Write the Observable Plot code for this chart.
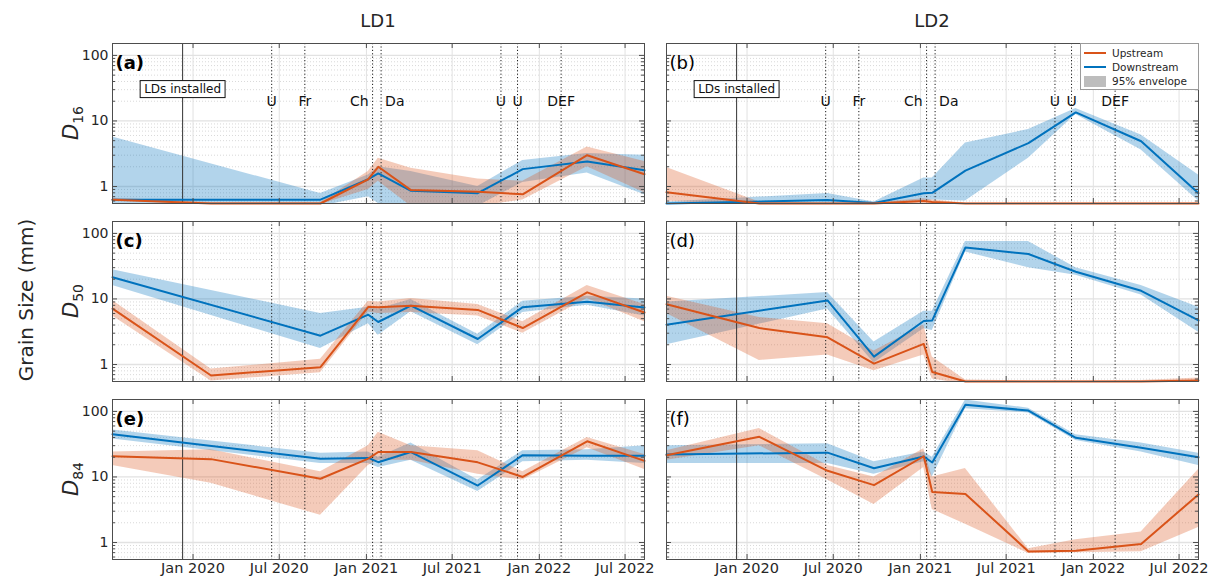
<!DOCTYPE html>
<html><head><meta charset="utf-8">
<script src="https://cdn.jsdelivr.net/npm/d3@7"></script>
<script src="https://cdn.jsdelivr.net/npm/@observablehq/plot@0.6"></script>
<style>
body{margin:0;background:#fff;font-family:"DejaVu Sans",sans-serif;color:#262626;}
#wrap{position:relative;width:1212px;height:576px;overflow:hidden;background:#fff;}
.abs{position:absolute;white-space:nowrap;}
.legend{position:absolute;border:1px solid #9a9a9a;background:#fff;font-size:11px;color:#262626;box-sizing:border-box;white-space:nowrap;}
.legend .row{position:absolute;left:0;right:0;height:14px;line-height:14px;white-space:nowrap;}
</style></head><body><div id="wrap"></div>
<script>
// ---------------- data ----------------
const xTickDates = ["2020-01-01","2020-07-01","2021-01-01","2021-07-01","2022-01-01","2022-07-01"];
const xTickLabels = ["Jan 2020","Jul 2020","Jan 2021","Jul 2021","Jan 2022","Jul 2022"];
const yTickValues = [1, 10, 100];
const yTickLabels = ["1", "10", "100"];
const yMinorValues = [0.6,0.7,0.8,0.9,2,3,4,5,6,7,8,9,20,30,40,50,60,70,80,90];

const eventLabels = ["U","Fr","Ch","Da","U","U","DEF"];
const eventDates = ["2020-06-15","2020-08-24","2021-01-14","2021-02-01","2021-10-12","2021-11-16","2022-02-16"];
const installDate = "2019-12-10";
const installLabel = "LDs installed";

const ld1Dates = ["2019-07-15","2020-02-08","2020-09-26","2021-01-05","2021-01-26","2021-04-05","2021-08-24","2021-11-27","2022-04-12","2022-08-11"];
const ld2Dates = ["2019-07-15","2020-01-27","2020-06-19","2020-09-25","2021-01-08","2021-01-26","2021-04-06","2021-08-17","2021-11-25","2022-04-12","2022-08-11"];

// LD1
const ld1_d16_up   = [0.63, 0.55, 0.55, 1.29, 2.0, 0.88, 0.83, 0.76, 3.0, 1.54];
const ld1_d16_upLo = [0.6, 0.53, 0.53, 0.9, 1.2, 0.5, 0.5, 0.62, 2.0, 0.8];
const ld1_d16_upHi = [0.66, 0.57, 0.57, 1.7, 2.7, 1.9, 1.3, 1.2, 4.0, 2.4];
const ld1_d16_dn   = [0.63, null, 0.63, 1.29, 1.58, 0.86, 0.79, 1.84, 2.4, 1.77];
const ld1_d16_dnLo = [0.5, null, 0.5, 0.7, 0.55, 0.45, 0.5, 1.15, 1.6, 0.75];
const ld1_d16_dnHi = [5.7, null, 0.78, 1.5, 2.0, 1.7, 1.0, 2.5, 3.2, 3.0];

const ld1_d50_up   = [7.1, 0.68, 0.91, 7.6, 7.5, 7.9, 6.8, 3.6, 12.6, 6.2];
const ld1_d50_upLo = [5.5, 0.56, 0.75, 6.3, 6.0, 6.2, 5.5, 3.0, 10.2, 4.5];
const ld1_d50_upHi = [9.5, 0.85, 1.2, 9.2, 9.0, 10.2, 8.2, 4.5, 16, 8.2];
const ld1_d50_dn   = [21.5, null, 2.75, 5.75, 4.45, 7.9, 2.45, 7.5, 9.1, 7.4];
const ld1_d50_dnLo = [16, null, 1.75, 4.2, 2.8, 6.4, 2.0, 6.2, 8.0, 5.5];
const ld1_d50_dnHi = [28, null, 6.0, 7.5, 7.0, 9.8, 2.9, 9.2, 11, 10];

const ld1_d84_up   = [20.7, 18.7, 9.4, 19, 24, 24, 16.7, 10, 35, 17.6];
const ld1_d84_upLo = [15, 8, 2.6, 15, 18, 18, 11, 9, 28, 13];
const ld1_d84_upHi = [24, 26, 12, 30, 48, 30, 25, 12, 40, 22];
const ld1_d84_dn   = [45, null, 18.9, 19.5, 16.8, 24, 7.4, 21.5, 21, 21];
const ld1_d84_dnLo = [38, null, 16, 16, 14, 18, 6, 17, 18, 16];
const ld1_d84_dnHi = [52, null, 23, 24, 20, 33, 9, 25, 26, 30];

// LD2
const ld2_d16_up   = [0.82, 0.55, 0.55, 0.55, 0.6, 0.58, 0.55, 0.55, 0.55, 0.55, 0.55];
const ld2_d16_upLo = [0.6, 0.5, 0.5, 0.5, 0.56, 0.54, 0.5, 0.5, 0.5, 0.5, 0.5];
const ld2_d16_upHi = [1.95, 0.58, 0.56, 0.56, 0.65, 0.62, 0.56, 0.56, 0.56, 0.56, 0.56];
const ld2_d16_dn   = [0.55, null, 0.62, 0.56, 0.79, 0.8, 1.75, 4.6, 13.5, 4.9, 0.79];
const ld2_d16_dnLo = [0.5, null, 0.55, 0.52, 0.6, 0.62, 0.6, 2.7, 12.5, 3.6, 0.6];
const ld2_d16_dnHi = [0.58, null, 0.78, 0.58, 1.35, 1.35, 4.6, 7.4, 15.5, 6.1, 1.5];

const ld2_d50_up   = [8.3, 3.6, 2.6, 1.03, 2.06, 0.77, 0.55, 0.55, 0.55, 0.55, 0.57];
const ld2_d50_upLo = [6, 1.15, 1.4, 0.8, 1.4, 0.6, 0.5, 0.5, 0.5, 0.5, 0.5];
const ld2_d50_upHi = [11, 5.2, 4.2, 1.6, 4.0, 1.3, 0.58, 0.56, 0.56, 0.57, 0.62];
const ld2_d50_dn   = [4.05, null, 9.5, 1.32, 4.6, 4.7, 61, 48.5, 26, 13.3, 4.7];
const ld2_d50_dnLo = [2.0, null, 7.0, 1.05, 3.5, 3.3, 52, 30, 23, 11.5, 3.1];
const ld2_d50_dnHi = [9, null, 12.5, 2.2, 6.5, 6.5, 75, 75, 30, 16, 7.5];

const ld2_d84_up   = [21.5, 41, 12.4, 7.5, 20.7, 5.9, 5.5, 0.73, 0.75, 0.95, 5.4];
const ld2_d84_upLo = [18, 30, 9, 3.8, 14, 3.2, 1.9, 0.68, 0.7, 0.72, 1.7];
const ld2_d84_upHi = [25, 55, 15, 10, 27, 10, 13.5, 0.8, 1.1, 1.45, 13];
const ld2_d84_dn   = [22, null, 23.5, 13.6, 20.5, 16.6, 126, 103, 39.5, 28, 20];
const ld2_d84_dnLo = [16, null, 16, 11, 17, 10, 110, 95, 36, 24, 15];
const ld2_d84_dnHi = [30, null, 32, 17, 24, 20, 150, 112, 44, 33, 23];

const titles = ["LD1", "LD2"];
const rowLabels = ["16", "50", "84"];
const panelLetters = [["(a)","(c)","(e)"], ["(b)","(d)","(f)"]];
const legendLabels = ["Upstream", "Downstream", "95% envelope"];

// ---------------- layout / style ----------------
const BLUE = "#0072BD", ORANGE = "#D95319", FRAME = "#4d4d4d";
const xDomain = [new Date("2019-07-15"), new Date("2022-08-11")];
const yDomain = [0.55, 152];
const W = 532, H = 160;
const colX = [112, 666];
const rowY = [43, 221, 399];
const ML = 40, MR = 18, MT = 4;
const FONT = "DejaVu Sans";
const eventLevel = 20, installLevel = 31;
const anchorOf = {"Ch": "end", "Da": "start"};

const wrap = document.getElementById("wrap");

function rows(dates, v, lo, hi) {
  return dates.map((d, i) => ({date: new Date(d), v: v[i], lo: lo[i], hi: hi[i]})).filter(r => r.v != null);
}

function panel(col, row, dates, up, upLo, upHi, dn, dnLo, dnHi) {
  const upR = rows(dates, up, upLo, upHi);
  const dnR = rows(dates, dn, dnLo, dnHi);
  const xt = xTickDates.map(d => new Date(d));
  const ev = eventLabels.map((t, i) => ({t, date: new Date(eventDates[i])}));
  const MB = row === 2 ? 18 : 4;
  const marks = [
    Plot.ruleY(yMinorValues, {y: d => d, stroke: "#cfcfcf", strokeWidth: 0.8, strokeDasharray: "1,2"}),
    Plot.ruleX(xt, {x: d => d, stroke: "#e2e2e2", strokeWidth: 1}),
    Plot.ruleY(yTickValues, {y: d => d, stroke: "#e2e2e2", strokeWidth: 1.3}),
    Plot.areaY(dnR, {x: "date", y1: "lo", y2: "hi", fill: BLUE, fillOpacity: 0.3, clip: true}),
    Plot.areaY(upR, {x: "date", y1: "lo", y2: "hi", fill: ORANGE, fillOpacity: 0.3, clip: true}),
    Plot.ruleX(ev, {x: "date", stroke: "#1a1a1a", strokeWidth: 1, strokeDasharray: "1.2,2.2"}),
    Plot.ruleX([new Date(installDate)], {x: d => d, stroke: "#333", strokeWidth: 1}),
    Plot.lineY(dnR, {x: "date", y: "v", stroke: BLUE, strokeWidth: 2}),
    Plot.lineY(upR, {x: "date", y: "v", stroke: ORANGE, strokeWidth: 2}),
    // inward ticks
    Plot.tickY(yTickValues, {y: d => d, insetRight: W - 5, stroke: FRAME}),
    Plot.tickY(yMinorValues, {y: d => d, insetRight: W - 3, stroke: FRAME}),
    Plot.tickY(yTickValues, {y: d => d, insetLeft: W - 5, stroke: FRAME}),
    Plot.tickY(yMinorValues, {y: d => d, insetLeft: W - 3, stroke: FRAME}),
    Plot.tickX(xt, {x: d => d, insetTop: H - 5, stroke: FRAME}),
    Plot.tickX(xt, {x: d => d, insetBottom: H - 5, stroke: FRAME}),
    Plot.frame({stroke: FRAME, strokeWidth: 1}),
    Plot.text([panelLetters[col][row]], {text: d => d, frameAnchor: "top-left", dx: 3, dy: 13,
      fontSize: 18, fontWeight: col === 0 ? "bold" : "normal", fill: "#000"})
  ];
  if (col === 0) {
    marks.push(Plot.axisY({ticks: yTickValues, tickSize: 0, tickPadding: 4, label: null,
      tickFormat: d => yTickLabels[yTickValues.indexOf(d)], fontSize: 14, fill: "#262626"}));
  }
  if (row === 2) {
    marks.push(Plot.axisX({ticks: xt, tickSize: 0, tickPadding: 3, label: null,
      tickFormat: d => xTickLabels[xt.findIndex(t => +t === +d)], fontSize: 14.5, fill: "#262626"}));
  }
  if (row === 0) {
    marks.push(Plot.text(ev.filter(e => !anchorOf[e.t]), {x: "date", y: () => eventLevel, text: "t", fontSize: 14, fill: "#111"}));
    marks.push(Plot.text(ev.filter(e => anchorOf[e.t] === "end"), {x: "date", y: () => eventLevel, text: "t", textAnchor: "end", dx: -4, fontSize: 14, fill: "#111"}));
    marks.push(Plot.text(ev.filter(e => anchorOf[e.t] === "start"), {x: "date", y: () => eventLevel, text: "t", textAnchor: "start", dx: 4, fontSize: 14, fill: "#111"}));
    marks.push(Plot.text([new Date(installDate)], {x: d => d, y: () => installLevel, text: () => installLabel, fontSize: 12, fill: "#111"}));
  }
  const svg = Plot.plot({
    width: W + ML + MR, height: H + MT + MB,
    marginLeft: ML, marginRight: MR, marginTop: MT, marginBottom: MB,
    style: {background: "transparent", fontFamily: FONT, overflow: "visible", color: "#262626"},
    x: {type: "utc", domain: xDomain, axis: null},
    y: {type: "log", domain: yDomain, axis: null},
    marks
  });
  svg.style.position = "absolute";
  svg.style.left = (colX[col] - ML) + "px";
  svg.style.top = (rowY[row] - MT) + "px";
  svg.style.maxWidth = "none";
  wrap.appendChild(svg);
  if (row === 0) {
    const t = [...svg.querySelectorAll("text")].find(e => e.textContent === installLabel);
    if (t) {
      const bb = t.getBBox();
      const r = document.createElementNS("http://www.w3.org/2000/svg", "rect");
      r.setAttribute("x", bb.x - 4); r.setAttribute("y", bb.y - 1);
      r.setAttribute("width", bb.width + 8); r.setAttribute("height", bb.height + 3);
      r.setAttribute("fill", "#fff"); r.setAttribute("stroke", "#111"); r.setAttribute("stroke-width", 1);
      if (t.getAttribute("transform")) r.setAttribute("transform", t.getAttribute("transform"));
      t.parentNode.insertBefore(r, t);
    }
  }
}

panel(0, 0, ld1Dates, ld1_d16_up, ld1_d16_upLo, ld1_d16_upHi, ld1_d16_dn, ld1_d16_dnLo, ld1_d16_dnHi);
panel(0, 1, ld1Dates, ld1_d50_up, ld1_d50_upLo, ld1_d50_upHi, ld1_d50_dn, ld1_d50_dnLo, ld1_d50_dnHi);
panel(0, 2, ld1Dates, ld1_d84_up, ld1_d84_upLo, ld1_d84_upHi, ld1_d84_dn, ld1_d84_dnLo, ld1_d84_dnHi);
panel(1, 0, ld2Dates, ld2_d16_up, ld2_d16_upLo, ld2_d16_upHi, ld2_d16_dn, ld2_d16_dnLo, ld2_d16_dnHi);
panel(1, 1, ld2Dates, ld2_d50_up, ld2_d50_upLo, ld2_d50_upHi, ld2_d50_dn, ld2_d50_dnLo, ld2_d50_dnHi);
panel(1, 2, ld2Dates, ld2_d84_up, ld2_d84_upLo, ld2_d84_upHi, ld2_d84_dn, ld2_d84_dnLo, ld2_d84_dnHi);

// ---------------- text overlays ----------------
function label(html, x, y, css, rotate) {
  const d = document.createElement("div");
  d.className = "abs";
  d.innerHTML = html;
  d.style.left = x + "px"; d.style.top = y + "px";
  d.style.transform = "translate(-50%,-50%)" + (rotate ? " rotate(-90deg)" : "");
  d.style.cssText += css;
  wrap.appendChild(d);
}
titles.forEach((t, i) => label(t, colX[i] + W / 2, 20, "font-size:18px;color:#262626;"));
label("Grain Size (mm)", 26, 300, "font-size:20px;color:#262626;", true);
rowLabels.forEach((s, i) => label('<i>D</i><sub style="font-size:14px;vertical-align:-5px">' + s + '</sub>',
  72, rowY[i] + H / 2, "font-size:21px;color:#262626;", true));

// legend
const lg = document.createElement("div");
lg.className = "legend";
lg.style.cssText += "left:1080px;top:43px;width:119px;height:47px;";
const sw = [
  `<span style="display:inline-block;width:22px;height:2px;background:${ORANGE};vertical-align:middle"></span>`,
  `<span style="display:inline-block;width:22px;height:2px;background:${BLUE};vertical-align:middle"></span>`,
  `<span style="display:inline-block;width:22px;height:11px;background:#bdbdbd;vertical-align:middle"></span>`
];
legendLabels.forEach((t, i) => {
  const r = document.createElement("div");
  r.className = "row";
  r.style.top = (2 + i * 14) + "px";
  r.innerHTML = `<span style="position:absolute;left:3px;top:0">${sw[i]}</span><span style="position:absolute;left:31px;top:0;white-space:nowrap;font-size:10.5px">${t}</span>`;
  lg.appendChild(r);
});
wrap.appendChild(lg);
</script>
</body></html>
